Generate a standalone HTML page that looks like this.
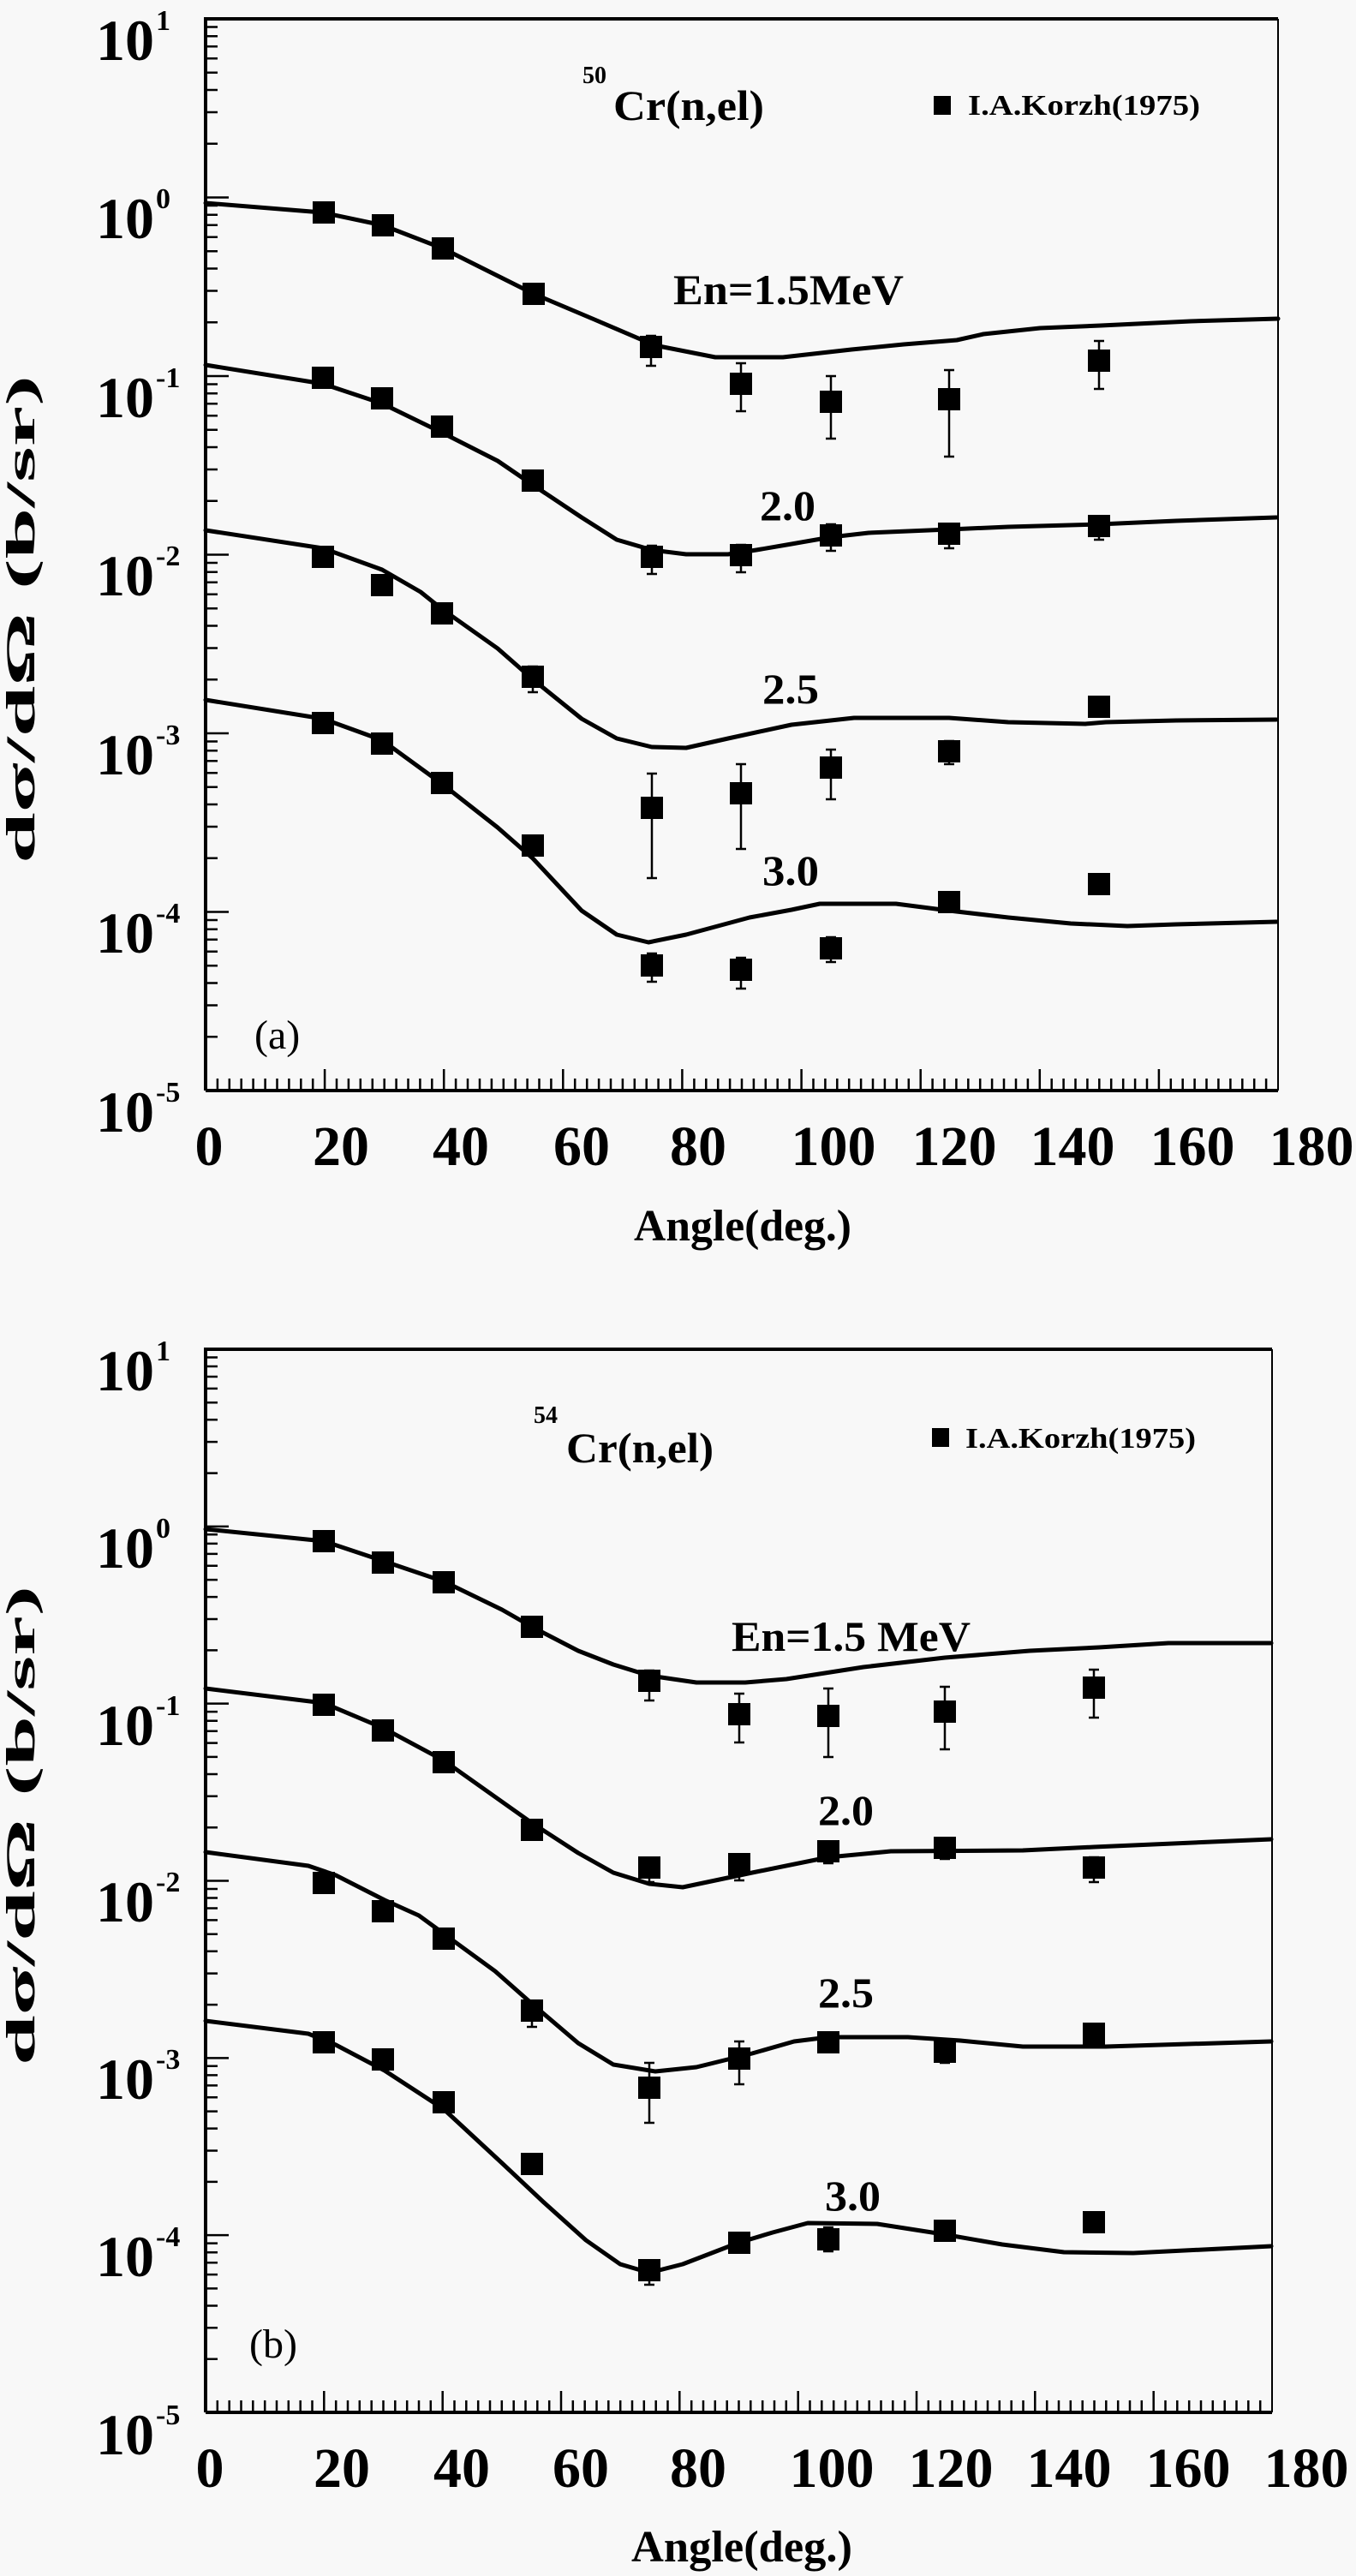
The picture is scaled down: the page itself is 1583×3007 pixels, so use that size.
<!DOCTYPE html>
<html><head><meta charset="utf-8"><style>
html,body{margin:0;padding:0;background:#f8f8f8;}
svg{display:block;}
text{font-family:"Liberation Serif",serif;fill:#000;}
</style></head><body>
<svg id="s" width="1583" height="3007" viewBox="0 0 1583 3007" xmlns="http://www.w3.org/2000/svg">
<rect width="1583" height="3007" fill="#f8f8f8"/>
<g id="g"></g>
<g font-weight="bold">
<text x="180" y="70" font-size="68" text-anchor="end">10</text><text x="182" y="35" font-size="34">1</text>
<text x="180" y="278" font-size="68" text-anchor="end">10</text><text x="182" y="243" font-size="34">0</text>
<text x="180" y="487" font-size="68" text-anchor="end">10</text><text x="182" y="452" font-size="34">-1</text>
<text x="180" y="695" font-size="68" text-anchor="end">10</text><text x="182" y="660" font-size="34">-2</text>
<text x="180" y="904" font-size="68" text-anchor="end">10</text><text x="182" y="869" font-size="34">-3</text>
<text x="180" y="1112" font-size="68" text-anchor="end">10</text><text x="182" y="1077" font-size="34">-4</text>
<text x="180" y="1321" font-size="68" text-anchor="end">10</text><text x="182" y="1286" font-size="34">-5</text>
<g font-size="66" text-anchor="middle">
<text x="244" y="1360">0</text><text x="398" y="1360">20</text><text x="538" y="1360">40</text><text x="679" y="1360">60</text><text x="815" y="1360">80</text><text x="973" y="1360">100</text><text x="1114" y="1360">120</text><text x="1252" y="1360">140</text><text x="1392" y="1360">160</text><text x="1531" y="1360">180</text>
</g>
<text x="740" y="1448" font-size="52" textLength="254" lengthAdjust="spacingAndGlyphs">Angle(deg.)</text>
<text transform="translate(40,723) rotate(-90)" font-size="48" text-anchor="middle" textLength="570" lengthAdjust="spacingAndGlyphs">dσ/dΩ (b/sr)</text>
<text x="680" y="97" font-size="28">50</text>
<text x="716" y="140" font-size="50" textLength="176" lengthAdjust="spacingAndGlyphs">Cr(n,el)</text>
<text x="1130" y="134" font-size="34" textLength="271" lengthAdjust="spacingAndGlyphs">I.A.Korzh(1975)</text>
<text x="786" y="355" font-size="50" textLength="269" lengthAdjust="spacingAndGlyphs">En=1.5MeV</text>
<text x="887" y="607" font-size="50" textLength="65" lengthAdjust="spacingAndGlyphs">2.0</text>
<text x="890" y="821" font-size="50" textLength="66" lengthAdjust="spacingAndGlyphs">2.5</text>
<text x="890" y="1033" font-size="50" textLength="66" lengthAdjust="spacingAndGlyphs">3.0</text>
</g>
<text x="297" y="1224" font-size="48">(a)</text>
<g font-weight="bold">
<text x="180" y="1623" font-size="68" text-anchor="end">10</text><text x="182" y="1588" font-size="34">1</text>
<text x="180" y="1830" font-size="68" text-anchor="end">10</text><text x="182" y="1795" font-size="34">0</text>
<text x="180" y="2037" font-size="68" text-anchor="end">10</text><text x="182" y="2002" font-size="34">-1</text>
<text x="180" y="2243" font-size="68" text-anchor="end">10</text><text x="182" y="2208" font-size="34">-2</text>
<text x="180" y="2450" font-size="68" text-anchor="end">10</text><text x="182" y="2415" font-size="34">-3</text>
<text x="180" y="2657" font-size="68" text-anchor="end">10</text><text x="182" y="2622" font-size="34">-4</text>
<text x="180" y="2865" font-size="68" text-anchor="end">10</text><text x="182" y="2830" font-size="34">-5</text>
<g font-size="66" text-anchor="middle">
<text x="245" y="2903">0</text><text x="399" y="2903">20</text><text x="539" y="2903">40</text><text x="678" y="2903">60</text><text x="815" y="2903">80</text><text x="971" y="2903">100</text><text x="1110" y="2903">120</text><text x="1248" y="2903">140</text><text x="1387" y="2903">160</text><text x="1525" y="2903">180</text>
</g>
<text x="737" y="2990" font-size="52" textLength="258" lengthAdjust="spacingAndGlyphs">Angle(deg.)</text>
<text transform="translate(40,2131) rotate(-90)" font-size="48" text-anchor="middle" textLength="560" lengthAdjust="spacingAndGlyphs">dσ/dΩ (b/sr)</text>
<text x="623" y="1661" font-size="28">54</text>
<text x="661" y="1707" font-size="50" textLength="172" lengthAdjust="spacingAndGlyphs">Cr(n,el)</text>
<text x="1127" y="1690" font-size="34" textLength="269" lengthAdjust="spacingAndGlyphs">I.A.Korzh(1975)</text>
<text x="854" y="1927" font-size="50" textLength="279" lengthAdjust="spacingAndGlyphs">En=1.5 MeV</text>
<text x="955" y="2130" font-size="50" textLength="65" lengthAdjust="spacingAndGlyphs">2.0</text>
<text x="955" y="2343" font-size="50" textLength="65" lengthAdjust="spacingAndGlyphs">2.5</text>
<text x="963" y="2580" font-size="50" textLength="65" lengthAdjust="spacingAndGlyphs">3.0</text>
</g>
<text x="291" y="2752" font-size="48">(b)</text>
</svg>
<script>
var NS="http://www.w3.org/2000/svg",g=document.getElementById("g");
function el(t,a){var e=document.createElementNS(NS,t);for(var k in a)e.setAttribute(k,a[k]);g.appendChild(e);return e;}
function panel(L,R,T,B){
 var d=(B-T)/6,p="";
 for(var i=0;i<6;i++){var y0=T+i*d;p+="M"+L+" "+y0+"h27";for(var m=2;m<=9;m++){var y=y0+d*(1-Math.log10(m));p+="M"+L+" "+y.toFixed(1)+"h14";}}
 var sx=(R-L)/180;
 for(var a=2;a<180;a+=2){var x=(L+a*sx).toFixed(1);p+="M"+x+" "+B+"v"+(a%20==0?-25:-14);}
 el("path",{d:p,stroke:"#000","stroke-width":2.5,fill:"none"});
 el("path",{d:"M"+L+" "+B+"V"+T+"H"+R,stroke:"#000","stroke-width":4,fill:"none"});
 el("path",{d:"M"+R+" "+T+"V"+B,stroke:"#000","stroke-width":2,fill:"none"});
 el("path",{d:"M"+L+" "+B+"H"+R,stroke:"#000","stroke-width":4,fill:"none"});
}
panel(240,1492,22,1273);
panel(240,1485,1575,2816);
function curve(pts){el("polyline",{points:pts,stroke:"#000","stroke-width":5,fill:"none","stroke-linejoin":"round","stroke-linecap":"round"});}
function sq(pts,errs){errs=errs||{};pts.forEach(function(q){var x=q[0],y=q[1];var e=errs[x];if(e){el("path",{d:"M"+x+" "+e[0]+"V"+e[1]+"M"+(x-6)+" "+e[0]+"h12M"+(x-6)+" "+e[1]+"h12",stroke:"#000","stroke-width":2.5,fill:"none"});}el("rect",{x:x-13,y:y-13,width:26,height:26,fill:"#000"});});}
el("rect",{x:1090,y:112,width:20,height:22,fill:"#000"});
el("rect",{x:1088,y:1667,width:20,height:22,fill:"#000"});
curve("240,237 376,248 447,263 517,290 623,343 694,373 764,403 835,417 914,417 994,408 1055,402 1117,397 1148,390 1214,383 1285,380 1390,375 1492,372");
sq([[378,248],[447,263],[517,290],[623,343],[760,405],[865,448],[970,469],[1108,466],[1283,421]],{760:[392,427],865:[424,480],970:[439,512],1108:[432,533],1283:[398,454]});
curve("240,426 377,448 446,471 516,505 581,538 622,566 679,604 720,630 761,642 801,647 850,647 883,642 924,635 970,627 1014,622 1108,618 1177,615 1283,612 1373,608 1490,604");
sq([[377,441],[446,465],[516,498],[622,561],[761,650],[865,648],[970,625],[1108,623],[1283,614]],{761:[637,670],865:[636,668],970:[612,643],1108:[613,640],1283:[604,630]});
curve("240,619 377,640 446,665 491,691 516,711 581,757 622,793 679,839 720,862 761,872 801,873 850,862 924,846 997,838 1108,838 1177,843 1267,845 1291,843 1373,841 1490,840");
sq([[377,650],[446,683],[516,716],[622,790],[761,943],[865,926],[970,896],[1108,877],[1283,825]],{622:[778,808],761:[903,1025],865:[892,991],970:[875,933],1108:[865,892]});
curve("240,817 377,839 446,864 516,915 581,966 622,1002 679,1063 720,1091 757,1100 801,1091 875,1071 924,1062 957,1055 1046,1055 1108,1063 1177,1071 1250,1078 1316,1081 1373,1079 1490,1076");
sq([[377,844],[446,868],[516,914],[622,987],[761,1127],[865,1132],[970,1107],[1108,1053],[1283,1032]],{761:[1113,1146],865:[1118,1154],970:[1094,1123]});
curve("240,1785 378,1799 447,1822 518,1846 586,1879 621,1899 675,1927 716,1943 758,1956 813,1964 870,1964 918,1960 1008,1946 1103,1935 1202,1927 1283,1923 1364,1918 1484,1918");
sq([[378,1799],[447,1824],[518,1847],[621,1899],[758,1962],[863,2001],[967,2003],[1103,1998],[1277,1970]],{758:[1950,1985],863:[1977,2034],967:[1971,2051],1103:[1969,2042],1277:[1949,2005]});
curve("240,1971 378,1988 447,2017 518,2055 621,2128 675,2163 716,2186 758,2199 797,2203 878,2186 967,2168 1040,2161 1194,2160 1277,2156 1484,2147");
sq([[378,1990],[447,2020],[518,2057],[621,2136],[758,2180],[863,2176],[967,2161],[1103,2157],[1277,2180]],{758:[2170,2197],863:[2168,2195],967:[2150,2175],1103:[2148,2170],1277:[2168,2197]});
curve("240,2162 360,2178 392,2189 449,2218 489,2236 530,2266 578,2301 621,2339 675,2385 716,2410 765,2418 813,2413 878,2397 927,2383 967,2378 1060,2378 1121,2382 1194,2389 1291,2389 1484,2383");
sq([[378,2198],[447,2231],[518,2263],[621,2347],[758,2437],[863,2403],[967,2384],[1103,2395],[1277,2374]],{621:[2336,2366],758:[2408,2478],863:[2383,2433],1103:[2385,2408]});
curve("240,2359 360,2374 392,2387 449,2417 518,2462 586,2525 635,2571 684,2615 724,2643 758,2653 797,2643 862,2618 902,2606 943,2595 1024,2596 1101,2608 1170,2620 1242,2629 1323,2630 1484,2622");
sq([[378,2384],[447,2404],[518,2454],[621,2526],[758,2650],[863,2618],[967,2614],[1103,2604],[1277,2594]],{758:[2640,2667],967:[2600,2628]});
</script>
</body></html>
